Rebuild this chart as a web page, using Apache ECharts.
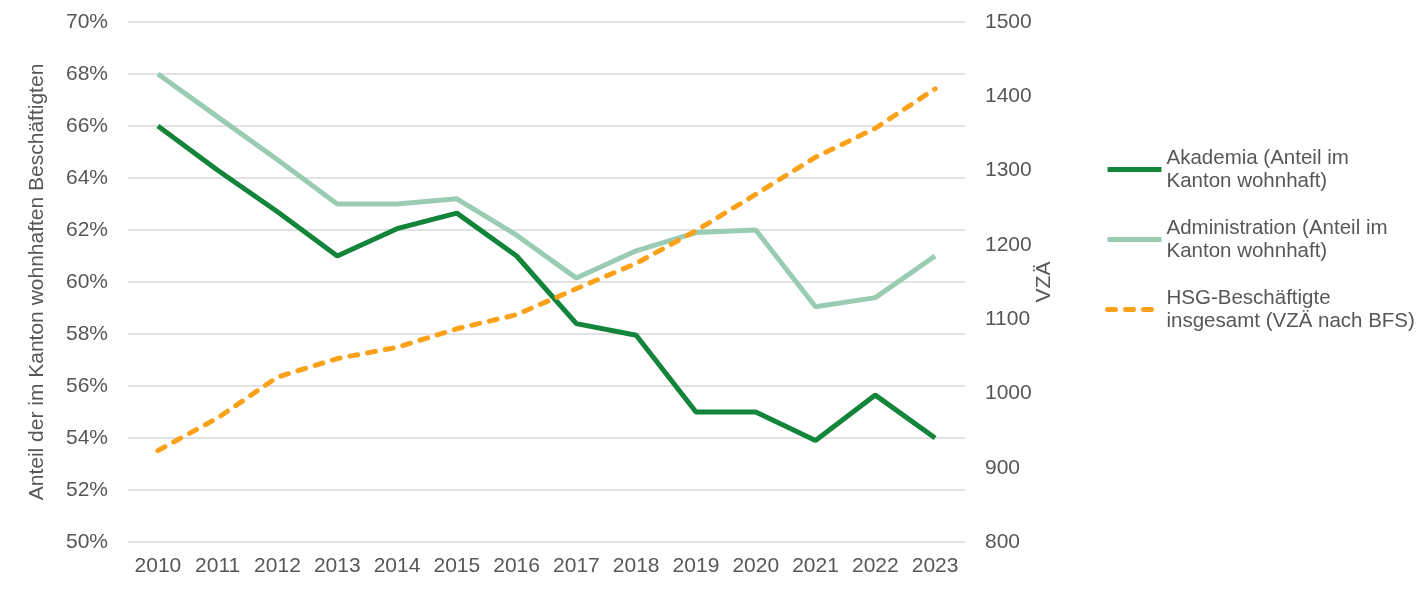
<!DOCTYPE html>
<html><head><meta charset="utf-8">
<script src="https://cdn.jsdelivr.net/npm/echarts@6/dist/echarts.min.js"></script>
<style>html,body{margin:0;padding:0;background:#fff}#c{width:1417px;height:591px}</style>
</head><body><div id="c"></div>
<script>
const years = ['2010','2011','2012','2013','2014','2015','2016','2017','2018','2019','2020','2021','2022','2023'];
const akademia = [66.0, 64.3, 62.7, 61.0, 62.05, 62.65, 61.0, 58.4, 57.95, 55.0, 55.0, 53.9, 55.65, 54.0];
const administration = [68.0, 66.35, 64.7, 63.0, 63.0, 63.2, 61.8, 60.15, 61.2, 61.9, 62.0, 59.05, 59.4, 61.0];
const hsgTotal = [923, 967, 1022, 1047, 1062, 1087, 1106, 1141, 1175, 1219, 1268, 1318, 1357, 1410];
const seriesNames = ['Akademia (Anteil im\nKanton wohnhaft)', 'Administration (Anteil im\nKanton wohnhaft)', 'HSG-Beschäftigte\ninsgesamt (VZÄ nach BFS)'];
const leftAxisName = 'Anteil der im Kanton wohnhaften Beschäftigten';
const rightAxisName = 'VZÄ';

const FONT = '"Liberation Sans", Arial, sans-serif';
const GREY = '#575757';
const chart = echarts.init(document.getElementById('c'), null, {renderer: 'canvas'});
chart.setOption({
  backgroundColor: '#ffffff',
  animation: false,
  textStyle: {fontFamily: FONT},
  grid: {left: 128, right: 452, top: 22, bottom: 49},
  legend: {
    orient: 'vertical', left: 1100, top: 130, itemWidth: 54, itemHeight: 14, itemGap: 1,
    itemStyle: {opacity: 0},
    lineStyle: {width: 5},
    textStyle: {color: GREY, fontSize: 20.5, fontFamily: FONT, lineHeight: 23, padding: [23, 0, 0, 0]},
    data: seriesNames
  },
  xAxis: {
    type: 'category', data: years, boundaryGap: true,
    axisLine: {show: false}, axisTick: {show: false},
    axisLabel: {color: GREY, fontSize: 21, margin: 14, interval: 0, fontFamily: FONT}
  },
  yAxis: [
    {
      type: 'value', min: 50, max: 70, interval: 2, position: 'left',
      name: leftAxisName, nameLocation: 'middle', nameGap: 80, nameRotate: 90,
      nameMoveOverlap: false,
      nameTextStyle: {color: GREY, fontSize: 21, fontFamily: FONT},
      axisLine: {show: false}, axisTick: {show: false},
      axisLabel: {color: GREY, fontSize: 21, margin: 20, formatter: v => v + '%', fontFamily: FONT},
      splitLine: {lineStyle: {color: '#d9d9d9', width: 1.5}}
    },
    {
      type: 'value', min: 800, max: 1500, interval: 100, position: 'right',
      name: rightAxisName, nameLocation: 'middle', nameGap: 69, nameRotate: 90,
      nameMoveOverlap: false,
      nameTextStyle: {color: GREY, fontSize: 21, fontFamily: FONT},
      axisLine: {show: false}, axisTick: {show: false},
      axisLabel: {color: GREY, fontSize: 21, margin: 20, formatter: v => String(v), fontFamily: FONT},
      splitLine: {show: false}
    }
  ],
  series: [
    {name: seriesNames[0], type: 'line', data: akademia, yAxisIndex: 0, symbol: 'none',
     color: '#12853a', lineStyle: {width: 5, color: '#12853a'}},
    {name: seriesNames[1], type: 'line', data: administration, yAxisIndex: 0, symbol: 'none',
     color: '#9acbb3', lineStyle: {width: 5, color: '#9acbb3'}},
    {name: seriesNames[2], type: 'line', data: hsgTotal, yAxisIndex: 1, symbol: 'none', z: 3,
     color: '#fba21a', lineStyle: {width: 5, color: '#fba21a', type: [8, 10], cap: 'round'}}
  ]
});
</script></body></html>
